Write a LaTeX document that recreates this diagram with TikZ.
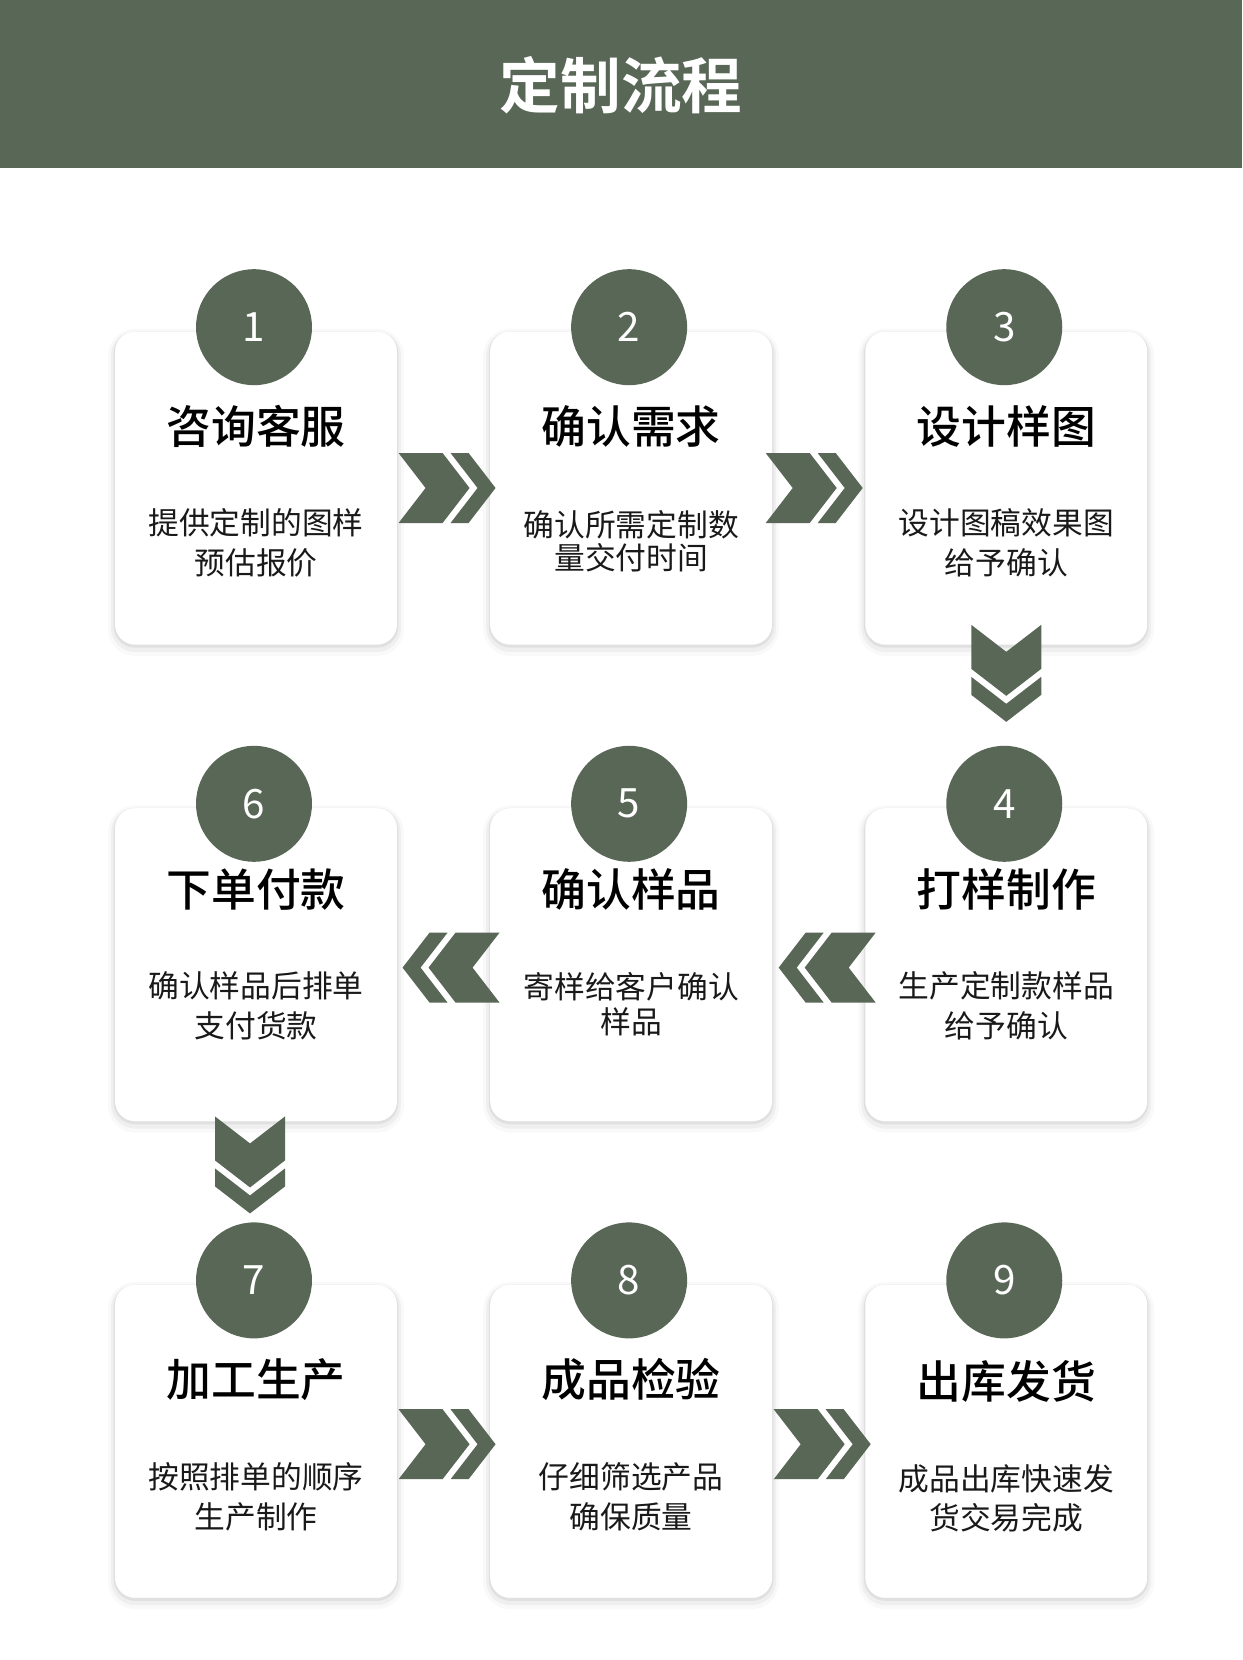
\documentclass[tikz,border=0pt]{standalone}
\usepackage{fontspec}
\setmainfont{Noto Sans CJK SC}[BoldFont={Noto Sans CJK SC Bold}]
\newfontfamily\medfont{Noto Sans CJK SC Medium}
\usetikzlibrary{positioning, calc}
\definecolor{sage}{RGB}{88,103,86}

\tikzset{
  dblchev/.pic={
    \fill[sage] (-48,-35) -- (-4,-35) -- (23,0) -- (-4,35) -- (-48,35) -- (-21,0) -- cycle;
    \fill[sage] (4,-35) -- (22,-35) -- (49,0) -- (22,35) -- (4,35) -- (31,0) -- cycle;
  }
}

\begin{document}
\begin{tikzpicture}[
  x=0.02cm, y=-0.02cm,
  card/.style={rectangle, rounded corners=0.4cm, fill=white, inner sep=0pt,
               minimum width=5.64cm, minimum height=6.26cm,
               preaction={draw=black, line width=8pt, opacity=0.025, transform canvas={yshift=-2.5pt}},
               preaction={draw=black, line width=4.5pt, opacity=0.04, transform canvas={yshift=-2pt}},
               preaction={draw=black, line width=1.6pt, opacity=0.06, transform canvas={yshift=-1pt}}},
  badge/.style={circle, fill=sage, minimum size=2.32cm, inner sep=0pt,
                text=white, font=\fontsize{23}{23}\selectfont},
  head/.style={font=\medfont\fontsize{25.5}{28}\selectfont, text=black},
  desc/.style={font=\fontsize{17.5}{22.7}\selectfont, align=center, text=black!90},
  node distance=3.26cm and 1.85cm,
]
  \useasboundingbox (0,0) rectangle (1242,1660);
  \fill[white] (0,0) rectangle (1242,1660);
  \fill[sage] (0,0) rectangle (1242,168);
  \node[text=white, font=\bfseries\fontsize{34.5}{36}\selectfont] (banner) at (621,85) {定制流程};

  \node[card] (c1) at (256,488) {};
  \node[card, right=of c1] (c2) {};
  \node[card, right=of c2] (c3) {};
  \node[card, below=of c3] (c4) {};
  \node[card, below=of c2] (c5) {};
  \node[card, below=of c1] (c6) {};
  \node[card, below=of c6] (c7) {};
  \node[card, below=of c5] (c8) {};
  \node[card, below=of c4] (c9) {};

  \foreach \i in {1,...,9}
    \node[badge] (n\i) at ($(c\i.north)+(-2,-4)$) {\i};

  \node[head] (t1) at ($(c1.north)+(0,95)$) {咨询客服};
  \node[head] (t2) at ($(c2.north)+(0,95)$) {确认需求};
  \node[head] (t3) at ($(c3.north)+(0,95)$) {设计样图};
  \node[head] (t4) at ($(c4.north)+(0,82)$) {打样制作};
  \node[head] (t5) at ($(c5.north)+(0,82)$) {确认样品};
  \node[head] (t6) at ($(c6.north)+(0,82)$) {下单付款};
  \node[head] (t7) at ($(c7.north)+(0,95)$) {加工生产};
  \node[head] (t8) at ($(c8.north)+(0,95)$) {成品检验};
  \node[head] (t9) at ($(c9.north)+(0,97)$) {出库发货};

  \node[desc] (d1) at ($(c1.north)+(0,212)$) {提供定制的图样\\预估报价};
  \node[desc, font=\fontsize{17.5}{18.7}\selectfont] (d2) at ($(c2.north)+(0,210)$) {确认所需定制数\\量交付时间};
  \node[desc] (d3) at ($(c3.north)+(0,212)$) {设计图稿效果图\\给予确认};
  \node[desc] (d4) at ($(c4.north)+(0,198)$) {生产定制款样品\\给予确认};
  \node[desc, font=\fontsize{17.5}{20}\selectfont] (d5) at ($(c5.north)+(0,196)$) {寄样给客户确认\\样品};
  \node[desc] (d6) at ($(c6.north)+(0,198)$) {确认样品后排单\\支付货款};
  \node[desc] (d7) at ($(c7.north)+(0,212)$) {按照排单的顺序\\生产制作};
  \node[desc] (d8) at ($(c8.north)+(0,212)$) {仔细筛选产品\\确保质量};
  \node[desc] (d9) at ($(c9.north)+(0,214)$) {成品出库快速发\\货交易完成};

  \pic at ($(c1.east)!0.5!(c2.west)+(3,0)$) {dblchev};
  \pic at ($(c2.east)!0.5!(c3.west)+(-5,0)$) {dblchev};
  \pic[rotate=-90] at ($(c3.south)+(0,28)$) {dblchev};
  \pic[rotate=180] at ($(c4.west)!0.5!(c5.east)+(9,3)$) {dblchev};
  \pic[rotate=180] at ($(c5.west)!0.5!(c6.east)+(8,3)$) {dblchev};
  \pic[rotate=-90] at ($(c6.south)+(-6,43)$) {dblchev};
  \pic at ($(c7.east)!0.5!(c8.west)+(3,3)$) {dblchev};
  \pic at ($(c8.east)!0.5!(c9.west)+(3,3)$) {dblchev};
\end{tikzpicture}
\end{document}
